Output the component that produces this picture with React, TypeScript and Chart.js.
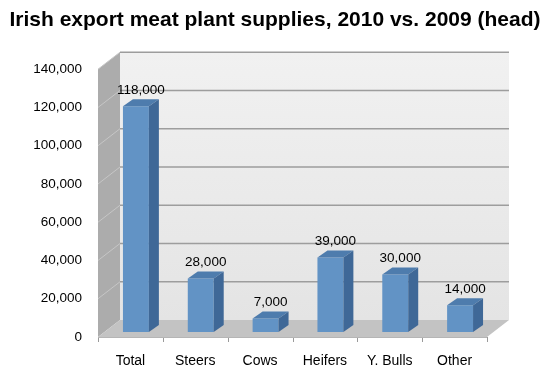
import React, { useEffect, useRef } from "react";
import { Chart, registerables } from "chart.js";

Chart.register(...registerables);

const categories = ["Total", "Steers", "Cows", "Heifers", "Y. Bulls", "Other"];
const values = [118000, 28000, 7000, 39000, 30000, 14000];
const yTickStep = 20000;
const yMax = 140000;
const title = "Irish export meat plant supplies, 2010 vs. 2009 (head)";

const FRONT = { dx: -5.5, dy: 5 };
const BACK = { dx: 16.5, dy: -12 };
const BAR_DEPTH = { dx: 10, dy: -7 };

const fmt = (v: number) => v.toLocaleString("en-US");

function poly(ctx: CanvasRenderingContext2D, pts: number[][], fill: any) {
  ctx.beginPath();
  ctx.moveTo(pts[0][0], pts[0][1]);
  for (let i = 1; i < pts.length; i++) ctx.lineTo(pts[i][0], pts[i][1]);
  ctx.closePath();
  ctx.fillStyle = fill;
  ctx.fill();
}

const threeD = {
  id: "threeD",
  beforeDatasetsDraw(chart: any) {
    const { ctx, chartArea: a, scales } = chart;
    const ys = scales.y;
    const L = a.left, R = a.right, T = a.top, Bo = a.bottom;
    ctx.save();
    // back wall
    const g = ctx.createLinearGradient(0, T + BACK.dy, 0, Bo + BACK.dy);
    g.addColorStop(0, "#f1f1f1");
    g.addColorStop(1, "#e4e4e4");
    poly(ctx, [[L + BACK.dx, T + BACK.dy], [R + BACK.dx, T + BACK.dy], [R + BACK.dx, Bo + BACK.dy], [L + BACK.dx, Bo + BACK.dy]], g);
    // left wall
    poly(ctx, [[L + FRONT.dx, T + FRONT.dy], [L + BACK.dx, T + BACK.dy], [L + BACK.dx, Bo + BACK.dy], [L + FRONT.dx, Bo + FRONT.dy]], "#acacac");
    // floor
    poly(ctx, [[L + FRONT.dx, Bo + FRONT.dy], [R + FRONT.dx, Bo + FRONT.dy], [R + BACK.dx, Bo + BACK.dy], [L + BACK.dx, Bo + BACK.dy]], "#c3c3c3");
    // gridlines
    ys.ticks.forEach((t: any) => {
      if (t.value === 0) return;
      const py = ys.getPixelForValue(t.value);
      ctx.strokeStyle = "#9d9d9d";
      ctx.lineWidth = 1.5;
      ctx.beginPath();
      ctx.moveTo(L + BACK.dx, py + BACK.dy);
      ctx.lineTo(R + BACK.dx, py + BACK.dy);
      ctx.stroke();
      ctx.strokeStyle = "#c6c6c6";
      ctx.lineWidth = 1;
      ctx.beginPath();
      ctx.moveTo(L + FRONT.dx, py + FRONT.dy);
      ctx.lineTo(L + BACK.dx, py + BACK.dy);
      ctx.stroke();
    });
    // x tick marks on front floor edge
    ctx.strokeStyle = "#9a9a9a";
    ctx.lineWidth = 1;
    const n = categories.length;
    const step = (R - L) / n;
    for (let i = 0; i <= n; i++) {
      const px = Math.round(L + i * step + FRONT.dx) + 0.5;
      ctx.beginPath();
      ctx.moveTo(px, Bo + FRONT.dy);
      ctx.lineTo(px, Bo + FRONT.dy + 5);
      ctx.stroke();
    }
    // front floor edge
    ctx.strokeStyle = "#b5b5b5";
    ctx.beginPath();
    ctx.moveTo(L + FRONT.dx, Bo + FRONT.dy + 0.5);
    ctx.lineTo(R + FRONT.dx, Bo + FRONT.dy + 0.5);
    ctx.stroke();
    ctx.restore();
  },
  afterDatasetsDraw(chart: any) {
    const { ctx } = chart;
    const meta = chart.getDatasetMeta(0);
    ctx.save();
    meta.data.forEach((bar: any, i: number) => {
      const { x, y, base, width } = bar.getProps(["x", "y", "base", "width"], true);
      const l = x - width / 2, r = x + width / 2;
      // top face
      poly(ctx, [[l, y], [r, y], [r + BAR_DEPTH.dx, y + BAR_DEPTH.dy], [l + BAR_DEPTH.dx, y + BAR_DEPTH.dy]], "#4e7cad");
      // side face
      poly(ctx, [[r, y], [r + BAR_DEPTH.dx, y + BAR_DEPTH.dy], [r + BAR_DEPTH.dx, base + BAR_DEPTH.dy], [r, base]], "#3f6897");
      // label
      ctx.fillStyle = "#000";
      ctx.font = "13.5px 'Liberation Sans', Arial, sans-serif";
      ctx.textAlign = "center";
      ctx.textBaseline = "middle";
      ctx.fillText(fmt(values[i]), x + 5, y - 16);
    });
    ctx.restore();
  },
};

export default function App() {
  const ref = useRef<HTMLCanvasElement>(null);
  useEffect(() => {
    document.body.style.margin = "0";
    Chart.defaults.font.family = "'Liberation Sans', Arial, sans-serif";
    const chart = new Chart(ref.current!, {
      type: "bar",
      data: {
        labels: categories,
        datasets: [
          {
            data: values,
            backgroundColor: "#6293c5",
            borderWidth: 0,
            categoryPercentage: 1,
            barPercentage: 0.4,
          },
        ],
      },
      options: {
        responsive: false,
        animation: false,
        devicePixelRatio: 1,
        layout: { padding: 0 },
        plugins: {
          legend: { display: false },
          tooltip: { enabled: false },
          title: {
            display: true,
            text: title,
            color: "#000",
            font: { size: 21, weight: "bold" },
            padding: { top: 8, bottom: 31 },
          },
        },
        scales: {
          x: {
            grid: { display: false, drawTicks: false },
            border: { display: false },
            ticks: { color: "#000", font: { size: 14 }, padding: 21, labelOffset: -5.5, maxRotation: 0 },
            afterFit: (s: any) => { s.height = 49; },
          },
          y: {
            min: 0,
            max: yMax,
            grid: { display: false, drawTicks: false },
            border: { display: false },
            ticks: { stepSize: yTickStep, color: "#000", font: { size: 13.5 }, padding: 21.5, labelOffset: 5, callback: (v: any) => fmt(Number(v)) },
            afterFit: (s: any) => { s.width = 103.5; },
          },
          y2: {
            position: "right",
            min: 0,
            max: yMax,
            grid: { display: false, drawTicks: false },
            border: { display: false },
            ticks: { display: false },
            afterFit: (s: any) => { s.width = 57.5; },
          },
        },
      },
      plugins: [threeD],
    });
    return () => chart.destroy();
  }, []);
  return <canvas ref={ref} width={550} height={381} />;
}
